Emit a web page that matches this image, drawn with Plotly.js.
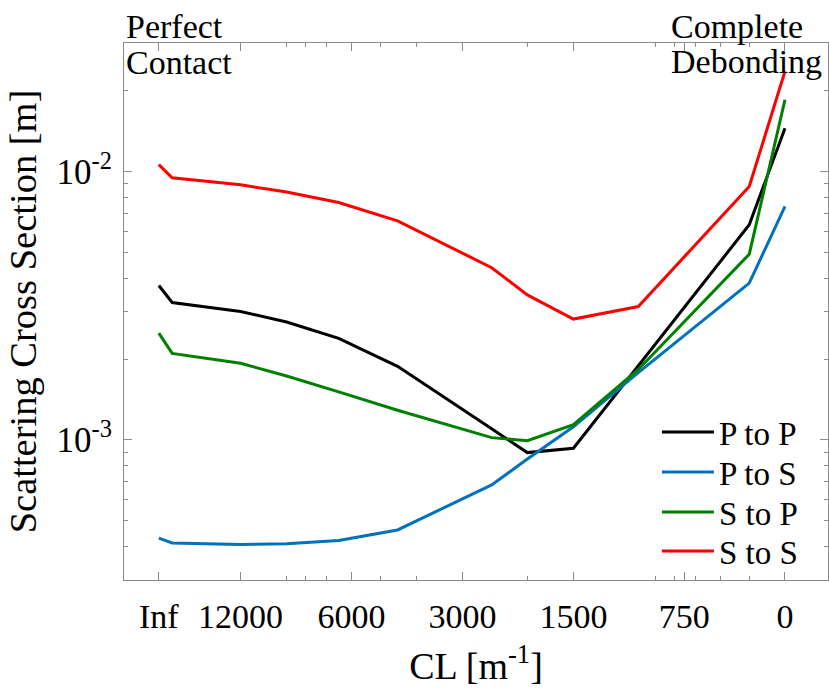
<!DOCTYPE html>
<html><head><meta charset="utf-8">
<script src="https://cdn.plot.ly/plotly-3.0.1.min.js"></script>
<style>html,body{margin:0;padding:0;background:#fff}#chart{width:829px;height:688px}</style>
</head><body><div id="chart"></div>
<script>
// x positions in CL units (Inf is drawn at the "Inf" tick = 20000, 0 at the "0" tick = 400)
const clPos = [20000, 18400, 12000, 9000, 6500, 4500, 2500, 2000, 1500, 1000, 500, 400];
const seriesNames = ["P to P", "P to S", "S to P", "S to S"];
const pToP = [0.00376, 0.00325, 0.00301, 0.00275, 0.00239, 0.00188, 0.00110, 0.000897, 0.000931, 0.00189, 0.00633, 0.0145];
const pToS = [0.000431, 0.000413, 0.000408, 0.000410, 0.000422, 0.000462, 0.000680, 0.000849, 0.00112, 0.00178, 0.00384, 0.00741];
const sToP = [0.00250, 0.00210, 0.00193, 0.00173, 0.00151, 0.00129, 0.00102, 0.000994, 0.00114, 0.00183, 0.00492, 0.0185];
const sToS = [0.0106, 0.00947, 0.00892, 0.00838, 0.00766, 0.00655, 0.00438, 0.00347, 0.00282, 0.00314, 0.00879, 0.0236];
const seriesColors = ["#000000", "#0072BD", "#008000", "#FF0000"];

const xTickVals = [20000, 12000, 6000, 3000, 1500, 750, 400];
const xTickText = ["Inf", "12000", "6000", "3000", "1500", "750", "0"];
const xMinorVals = [9000, 8000, 7000, 5000, 4000, 2000, 900, 800, 700, 600, 500];
const yTickVals = [0.001, 0.01];
const yTickText = ["10<sup>-3</sup>", "10<sup>-2</sup>"];
const yMinorVals = [0.0004, 0.0005, 0.0006, 0.0007, 0.0008, 0.0009, 0.002, 0.003, 0.004, 0.005, 0.006, 0.007, 0.008, 0.009, 0.02, 0.03];

const FONT = "Liberation Serif";
const AX = "#8a8a8a";

const legendIds = ["legend", "legend2", "legend3", "legend4"];
const legendCenters = [432, 472, 512, 551]; // pixel rows of the legend entries

const ys = [pToP, pToS, sToP, sToS];
const traces = ys.map((y, i) => ({
  type: "scatter", mode: "lines", x: clPos, y: y, name: seriesNames[i],
  legend: legendIds[i],
  line: {color: seriesColors[i], width: 3}
}));

const layout = {
  width: 829, height: 688,
  margin: {l: 124, r: 1, t: 43, b: 108, pad: 0},
  paper_bgcolor: "#ffffff", plot_bgcolor: "#ffffff",
  font: {family: FONT, size: 32, color: "#000"},
  showlegend: true,
  xaxis: {
    type: "log", autorange: false, range: [4.3955, 2.4853],
    tickmode: "array", tickvals: xTickVals, ticktext: xTickText,
    ticks: "inside", ticklen: 8, tickwidth: 1, tickcolor: AX,
    showline: true, linecolor: AX, linewidth: 1, mirror: "ticks",
    showgrid: false, zeroline: false, ticklabelstandoff: 6,
    minor: {tickmode: "array", tickvals: xMinorVals, ticks: "inside", ticklen: 4, tickcolor: AX, showgrid: false},
    tickfont: {family: FONT, size: 34, color: "#000"},
    title: {text: "CL [m<sup>-1</sup>]", font: {family: FONT, size: 38, color: "#000"}, standoff: 18}
  },
  yaxis: {
    type: "log", autorange: false, range: [-3.5218, -1.5214],
    tickmode: "array", tickvals: yTickVals, ticktext: yTickText,
    ticks: "inside", ticklen: 8, tickwidth: 1, tickcolor: AX,
    showline: true, linecolor: AX, linewidth: 1, mirror: "ticks",
    showgrid: false, zeroline: false, ticklabelstandoff: 4,
    minor: {tickmode: "array", tickvals: yMinorVals, ticks: "inside", ticklen: 4, tickcolor: AX, showgrid: false},
    tickfont: {family: FONT, size: 35, color: "#000"},
    title: {text: "Scattering Cross Section [m]", font: {family: FONT, size: 38.5, color: "#000"}, standoff: 8}
  },
  annotations: [
    {xref: "paper", yref: "paper", x: 0.0, y: 1.0, xanchor: "left", yanchor: "bottom", yshift: -4, showarrow: false,
     text: "Perfect", font: {family: FONT, size: 34, color: "#000"}},
    {xref: "paper", yref: "paper", x: 0.0, y: 1.0, xanchor: "left", yanchor: "top", yshift: 1, showarrow: false,
     text: "Contact", font: {family: FONT, size: 34, color: "#000"}},
    {xref: "paper", yref: "paper", x: 0.7735, y: 1.0, xanchor: "left", yanchor: "bottom", yshift: -4, showarrow: false,
     text: "Complete", font: {family: FONT, size: 34, color: "#000"}},
    {xref: "paper", yref: "paper", x: 0.7735, y: 1.0, xanchor: "left", yanchor: "top", yshift: 2, showarrow: false,
     text: "Debonding", font: {family: FONT, size: 34, color: "#000"}}
  ]
};

legendIds.forEach((id, i) => {
  layout[id] = {
    x: 0.757, y: (580 - legendCenters[i]) / 537, xanchor: "left", yanchor: "middle",
    bgcolor: "rgba(0,0,0,0)", borderwidth: 0, itemwidth: 52,
    font: {family: FONT, size: 33, color: "#000"}
  };
});

Plotly.newPlot("chart", traces, layout, {displayModeBar: false, staticPlot: true});
</script>
</body></html>
